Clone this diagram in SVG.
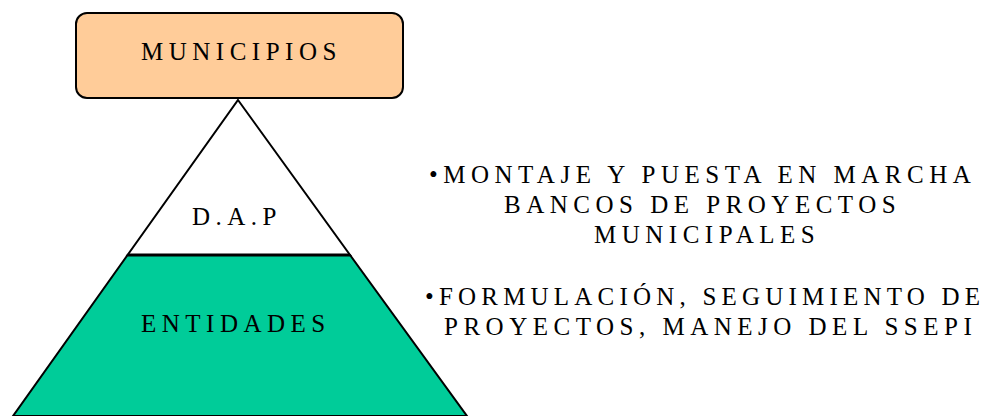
<svg xmlns="http://www.w3.org/2000/svg" width="989" height="416" viewBox="0 0 989 416">
<style>
.t{font-family:"Liberation Serif","Times New Roman",serif;font-size:25px;letter-spacing:5.5px;fill:#000}
</style>
<rect width="989" height="416" fill="#fff"/>
<g id="entidades">
<polygon points="127.6,255 350,255 467,416 13,416" fill="#00CC99" stroke="#000" stroke-width="2"/>
<text class="t" x="141" y="332">ENTIDADES</text>
</g>
<g id="dap">
<polygon points="238,100 350,255 127.6,255" fill="#fff" stroke="#000" stroke-width="2"/>
<line x1="127.6" y1="255" x2="350" y2="255" stroke="#000" stroke-width="3"/>
<text class="t" x="192" y="225">D.A.P</text>
</g>
<g id="municipios">
<rect x="76" y="13" width="327" height="85" rx="11" fill="#FFCC99" stroke="#000" stroke-width="2"/>
<text class="t" x="141" y="60">MUNICIPIOS</text>
</g>
<g id="notas">
<text class="t" x="429" y="183">•MONTAJE Y PUESTA EN MARCHA</text>
<text class="t" x="504" y="213">BANCOS DE PROYECTOS</text>
<text class="t" x="594" y="243">MUNICIPALES</text>
<text class="t" x="425" y="305" style="letter-spacing:5.2px">•FORMULACIÓN, SEGUIMIENTO DE</text>
<text class="t" x="444" y="335">PROYECTOS, MANEJO DEL SSEPI</text>
</g>
<g id="connectors"/>
</svg>
